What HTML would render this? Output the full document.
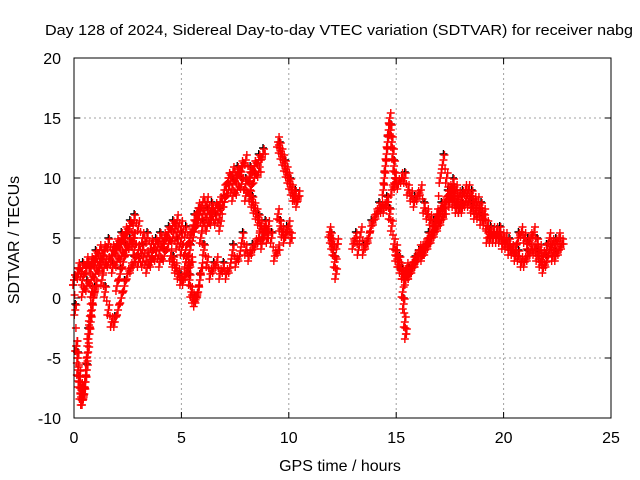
<!DOCTYPE html>
<html><head><meta charset="utf-8"><style>
body{margin:0;background:#fff}
svg{display:block;font-family:"Liberation Sans",sans-serif}
</style></head><body>
<svg id="chart" width="640" height="480">
<text x="339" y="35" font-size="15" text-anchor="middle" textLength="588" lengthAdjust="spacingAndGlyphs">Day 128 of 2024, Sidereal Day-to-day VTEC variation (SDTVAR) for receiver nabg</text>
<text x="340" y="471" font-size="16" text-anchor="middle">GPS time / hours</text>
<text transform="translate(19,240) rotate(-90)" font-size="16" text-anchor="middle">SDTVAR / TECUs</text>
<g id="grid"></g>
<g id="ticks"></g>
<g id="marks"></g>
<rect x="74" y="58" width="537" height="360" fill="none" stroke="#000" stroke-width="1"/>
</svg>
<script>
const xTicks=[0,5,10,15,20,25];
const yTicks=[-10,-5,0,5,10,15,20];
// tracks: each is [startHour, stepHours, values...]
const trackMain=[0,0.2,1.5,2,1.5,2.5,2.5,3,3,3.5,3,3.5,4,4.5,5,6,5,4,4,3.5,3.5,4.5,4,4.5,5.5,6,5.5,5,4,5,6.5,7.5,7,7,7,7.5,7,9,10,9.5,10,10.5,9.5,10,11,11.5];
const trackMainLow=[0.4,0.2,0.5,1,1.5,2,2.5,2.5,3,2.5,3,3.5,4,4.5,4,3,3,2.5,3,3.5,3,3.5,4.5,5,4.5,4,3,4,5.5,6.5,6,6,6.5,6.5,6,8,9,8.5,9,9.5,8.5,9,10,10.5];
const trackMainHigh=[0.2,0.2,2.5,2.5,3,3,3.5,4,4,4.5,4,4.5,5,5.5,6,6.5,6,5,5,4.5,4.5,5,5,5.5,6,6.5,6,5.5,5,6,7,8,8,7.5,7.5,8,8,10,10.5,10.5,11,11.5,10.5,11,11.5,12];
const trackDrop=[0,0.06,1.5,-1,-4,-6,-7,-8,-8.5,-8.5,-8,-7,-6,-4.5,-3,-2,-1,0,0.5,1];
const trackDrop2=[0.1,0.08,-4,-5,-6.5,-7.5,-8,-7,-5,-3,-1.5,0.5];
const trackSag1=[1.3,0.15,1.5,0.5,-1,-2,-2,-1,0,1,2,2.5,3];
const trackSag2=[2.0,0.15,1,2,3,4,4.5,5];
const trackDip5=[4.5,0.12,3.5,3,2.5,2,1.5,1.5,2,2.5,3];
const trackDip55=[5.3,0.08,2.5,1.5,0.5,0,-0.3,0,0.5,1.5,2.5];
const trackLow68=[5.9,0.15,5,4,3,2,2.5,3,2,2.5,2,2.5,4,3,3.5,5,4,3.5,4,4.5,5,4.5,5.5,6,5,3.5,4];
const trackMid8=[8.2,0.1,8.5,8,7.5,7,6.5,6,5.5,6,5];
const trackHi10=[9.5,0.08,13,12.5,12,11.5,11,10.5,10,9.5,9,8.5,8.5,8,8.5];
const trackLo10=[9.5,0.1,7,6,5.5,5,5.5,6,5];
const trackGap12=[11.9,0.06,5.5,5,4.5,4,3,2,4.5];
const trackAfter13=[13.0,0.12,4.5,5,4,5.5,4,4.5,5,6,6.5,7,7.5,7.5,7.5,8];
const trackSpike=[14.4,0.05,9,10,11,12,13,14,15,14,13,12,11,10];
const trackUp15=[14.8,0.15,9,9.5,9.5,10,10,9,8.5,8,8.5,9,7.5,7,6.5,6,7,10,11.5,10,8.5,8,7.5,7.5];
const trackLow15=[14.6,0.1,8,7,6,4.5,3.5,3,2.5,2,2,2.5,2,2.5,3,3,3.5,4,3.5,4,4.5,5,5,5.5,6,6.5,7,7.5,7.5,8,8.5,8.5,9];
const trackLow15b=[15.0,0.15,4,3,2,1.5,2,2.5,3,3.5,4,4,4.5,5,5.5,6,6.5,7];
const trackOut15=[15.3,0.05,0.5,-0.5,-2,-3];
const trackTail=[17.5,0.145,9,9.5,9,8.5,8.5,9,9,8.5,8,8,7.5,7,6,5.5,5.5,5,5,5,5,4.5,4,3.5,3.5,3,3,3.5,4,4,3.5,3,2.5,3,4,3.5,3.5,4,4.5];
const trackTailHi=[17.5,0.145,8,8.5,8,7.5,7.5,8,8,7.5,7,7,6.5,6.5,5,5,5,5.5,5.5,4.5,4.5,4,4,4,5,5.5,5,4.5,5,5.5,4.5,4,3.5,4,5,4.5,4.5,5];
const tracks=[trackMain,trackMainLow,trackMainHigh,trackDrop,trackDrop2,trackSag1,trackSag2,trackDip5,trackDip55,trackLow68,trackMid8,trackHi10,trackLo10,trackGap12,trackAfter13,trackSpike,trackUp15,trackLow15,trackLow15b,trackOut15,trackTail,trackTailHi];

const X0=74,X1=611,Y0=418,Y1=58;
const xs=t=>X0+(t-0)/(25-0)*(X1-X0);
const ys=v=>Y0-(v+10)/(30)*(Y0-Y1);
const NS="http://www.w3.org/2000/svg";
const grid=document.getElementById('grid'),ticks=document.getElementById('ticks'),marks=document.getElementById('marks');
function mk(tag,attrs,parent){const e=document.createElementNS(NS,tag);for(const k in attrs)e.setAttribute(k,attrs[k]);parent.appendChild(e);return e;}
xTicks.forEach(t=>{
  const x=xs(t);
  if(t>0&&t<25){const g=mk('line',{x1:x,x2:x,y1:Y1,y2:Y0,stroke:'#a0a0a0','stroke-dasharray':'2,3'},grid);
  
  }
  mk('line',{x1:x,x2:x,y1:Y0,y2:Y0-6,stroke:'#000'},ticks);
  mk('line',{x1:x,x2:x,y1:Y1,y2:Y1+6,stroke:'#000'},ticks);
  const l=mk('text',{x:x,y:443,'font-size':16,'text-anchor':'middle'},ticks);l.textContent=t;
  
  
});
yTicks.forEach(v=>{
  const y=ys(v);
  if(v>-10&&v<20){const g=mk('line',{x1:X0,x2:X1,y1:y,y2:y,stroke:'#a0a0a0','stroke-dasharray':'2,3'},grid);
  
  }
  mk('line',{x1:X0,x2:X0+6,y1:y,y2:y,stroke:'#000'},ticks);
  mk('line',{x1:X1,x2:X1-6,y1:y,y2:y,stroke:'#000'},ticks);
  const l=mk('text',{x:61,y:y+6,'font-size':16,'text-anchor':'end'},ticks);l.textContent=v;
  
  
});
function plus(t,v,color,dx,dy){
  const x=xs(t)+dx,y=ys(v)+dy;
  const p=mk('path',{d:`M${x-4} ${y}H${x+4}M${x} ${y-4}V${y+4}`,stroke:color,'stroke-width':1.4,fill:'none'},marks);
  
  
}
['#000','#f00'].forEach((c,ci)=>{
  tracks.forEach(tr=>{
    const t0=tr[0],st=tr[1];
    for(let i=2;i<tr.length;i++){
      const t=t0+(i-2)*st,v=tr[i];
      const vn=i+1<tr.length?tr[i+1]:v;
      if(ci===0){ if(i%3===0) plus(t,v,c,0,-6); continue; }
      plus(t,v,c,0,0);
      plus(t,v,c,1,-5);
      plus(t,v,c,-1,5);
      plus(t+st/2,(v+vn)/2,c,0,0);
    }
  });
});
</script>
</body></html>
